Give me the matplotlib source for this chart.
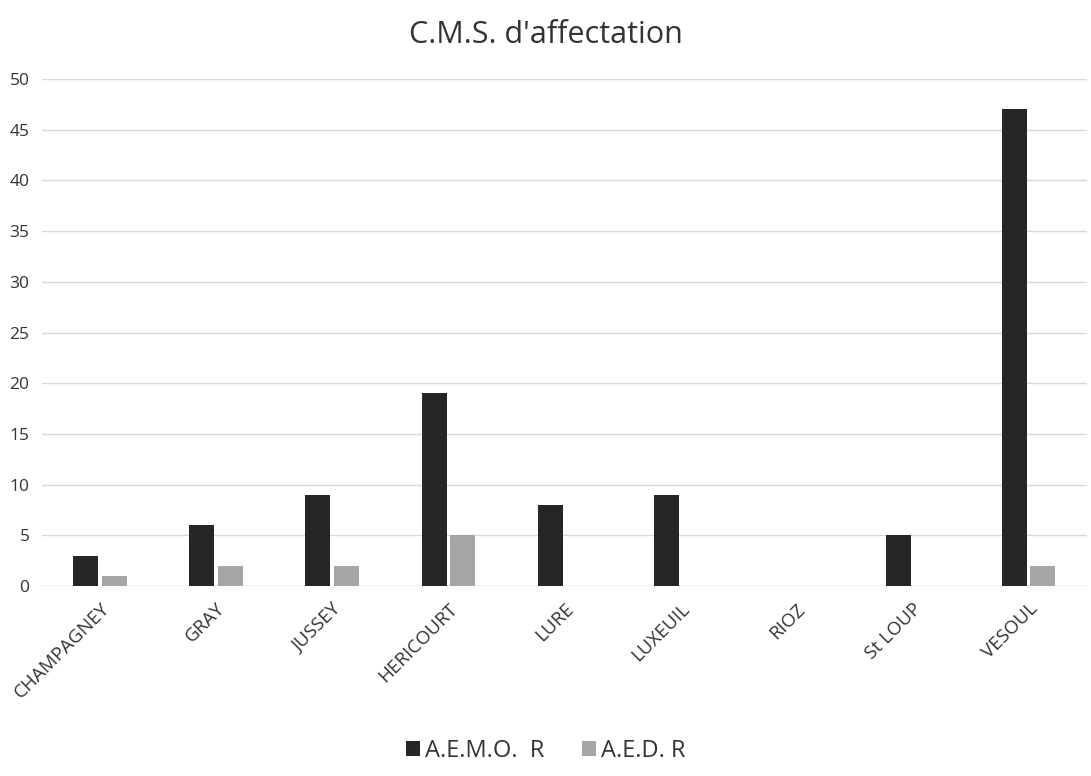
import numpy as np
import matplotlib.pyplot as plt

plt.rcParams['font.family'] = ['Open Sans', 'DejaVu Sans']

# données
categories = ['CHAMPAGNEY', 'GRAY', 'JUSSEY', 'HERICOURT', 'LURE',
              'LUXEUIL', 'RIOZ', 'St LOUP', 'VESOUL']
aemo = [3, 6, 9, 19, 8, 9, 0, 5, 47]
aed = [1, 2, 2, 5, 0, 0, 0, 0, 2]

fig = plt.figure(figsize=(10.91, 7.76), dpi=100)
ax = fig.add_axes([0.0385, 0.2448, 0.9575, 0.6534])

x = np.arange(len(categories))
w = 0.215
gap = 0.03
ax.bar(x - (w + gap) / 2, aemo, w, color='#262626', label='A.E.M.O.  R', zorder=3)
ax.bar(x + (w + gap) / 2, aed, w, color='#a6a6a6', label='A.E.D. R', zorder=3)

ax.set_xlim(-0.5, len(categories) - 0.5)
ax.set_ylim(0, 50)
ax.set_yticks(range(0, 51, 5))
ax.yaxis.grid(True, color='#d9d9d9', linewidth=1, zorder=0)
for s in ax.spines.values():
    s.set_visible(False)
ax.axhline(0, color='#d9d9d9', linewidth=1, zorder=1)
ax.tick_params(axis='both', length=0, colors='#333333')
ax.tick_params(axis='y', pad=9, labelsize=12.5)
ax.set_xticks(x)
ax.set_xticklabels(categories, rotation=45, ha='right', rotation_mode='anchor')
ax.tick_params(axis='x', pad=10, labelsize=13.5)

fig.text(0.5, 0.955, "C.M.S. d'affectation", ha='center', va='center',
         fontsize=22, color='#333333')

fig.legend(loc='center', bbox_to_anchor=(0.5, 0.032), ncol=2, frameon=False,
           fontsize=17, handlelength=0.6, handleheight=0.6, handletextpad=0.2,
           columnspacing=1.6, labelcolor='#333333')

fig.savefig('out.png', dpi=100)
